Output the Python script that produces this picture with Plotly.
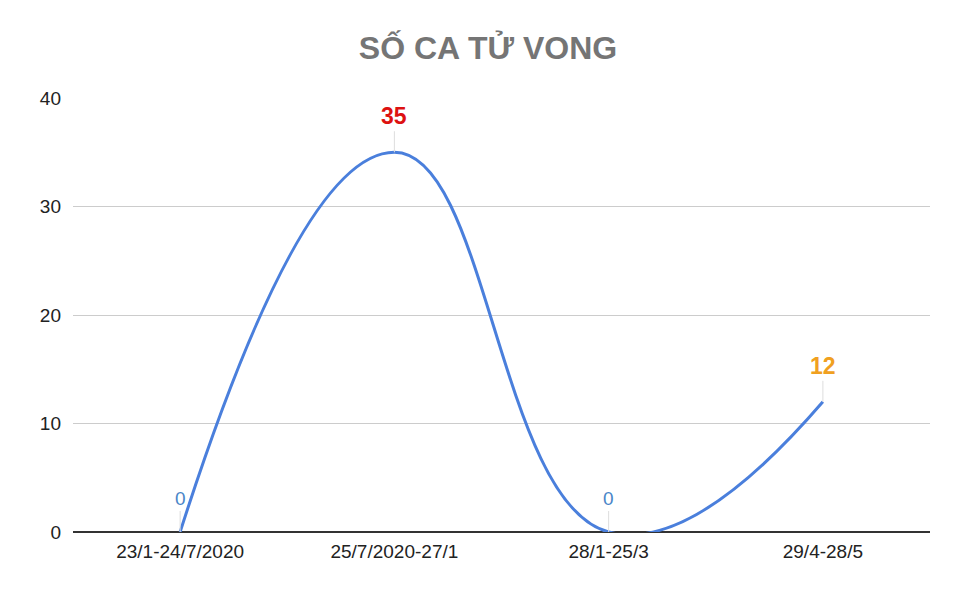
import plotly.graph_objects as go

categories = ["23/1-24/7/2020", "25/7/2020-27/1", "28/1-25/3", "29/4-28/5"]
deaths = [0, 35, 0, 12]
label_colors = ["#4a86c8", "#dd1111", "#4a86c8", "#f0a020"]
label_bold = [False, True, False, True]
y_ticks = [0, 10, 20, 30, 40]

fig = go.Figure()
fig.add_trace(go.Scatter(
    x=categories, y=deaths, mode="lines",
    line=dict(color="#4a7fdc", width=3, shape="spline", smoothing=1.3),
    hoverinfo="x+y", cliponaxis=True,
))

for c, v, col, b in zip(categories, deaths, label_colors, label_bold):
    fig.add_annotation(
        x=c, y=v, text=f"<b>{v}</b>" if b else str(v),
        showarrow=True, arrowhead=0, arrowwidth=1, arrowcolor="#dddddd",
        ax=0, ay=-21, yanchor="bottom",
        font=dict(family="Liberation Sans, Arial", size=23 if b else 19, color=col),
    )

fig.update_layout(
    width=960, height=594,
    paper_bgcolor="white", plot_bgcolor="white",
    margin=dict(l=65, r=38, t=90, b=70, autoexpand=False),
    showlegend=False,
    title=dict(text="<b>SỐ CA TỬ VONG</b>", x=0.5, xanchor="center", y=0.933, yanchor="middle",
               font=dict(family="Liberation Sans, Arial", size=32, color="#757575")),
    font=dict(family="Liberation Sans, Arial", size=18, color="#222222"),
)
fig.update_xaxes(range=[-0.5, 3.5], showgrid=False, showline=False, ticks="",
                 automargin=False, ticklabelstandoff=6,
                 tickfont=dict(size=19, color="#222222"))
fig.update_yaxes(range=[0, 40], tickvals=y_ticks, showgrid=True, gridcolor="#cccccc", gridwidth=1,
                 zeroline=True, zerolinecolor="#333333", zerolinewidth=2, automargin=False,
                 ticks="", ticklen=0, ticklabelstandoff=11,
                 tickfont=dict(size=19, color="#222222"))

fig.write_html("out.html")
